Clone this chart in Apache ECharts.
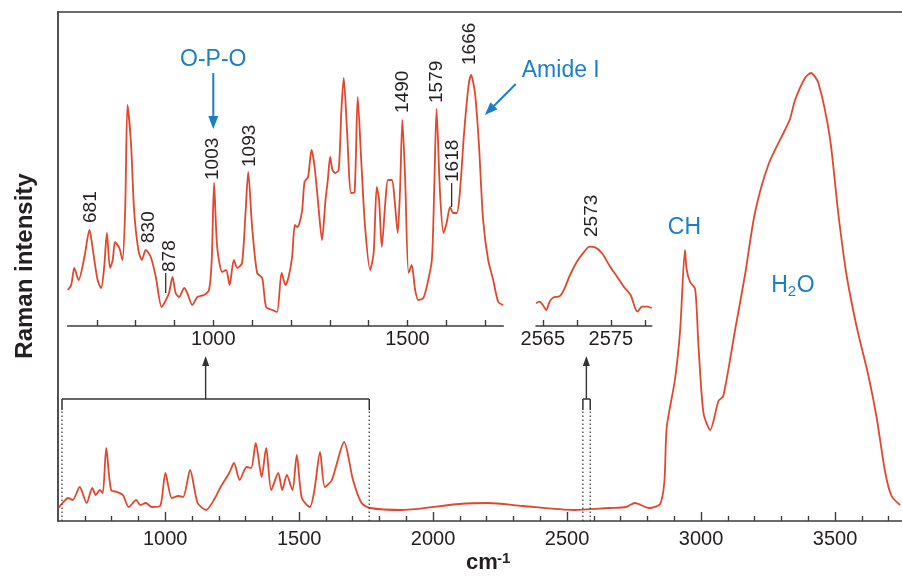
<!DOCTYPE html>
<html><head><meta charset="utf-8">
<script src="https://cdn.jsdelivr.net/npm/echarts@6/dist/echarts.min.js"></script>
<style>html,body{margin:0;padding:0;background:#fff}#c{width:902px;height:576px}</style>
</head><body><div id="c"></div>
<script>
// ---- Full spectrum (main panel), x in cm-1, y in arbitrary intensity units
const mainX = [602,617,638,655,681,707,728,741,756,767,780,798,821,842,864,892,907,928,950,981,1001,1025,1050,1067,1093,1121,1153,1186,1207,1239,1257,1278,1304,1321,1338,1360,1377,1396,1422,1437,1454,1475,1491,1510,1540,1557,1578,1596,1622,1668,1701,1733,1765,1884,2097,2205,2334,2526,2656,2720,2753,2806,2847,2863,2872,2903,2922,2940,2946,2959,2978,2990,3009,3034,3065,3083,3127,3164,3201,3251,3313,3332,3351,3388,3410,3438,3481,3512,3543,3581,3624,3655,3687,3711,3743];
const mainY = [13,18,23,21,34,18,33,26,31,28,73,31,29,26,14,21,16,18,14,15,48,23,25,24,51,18,11,23,34,48,58,41,54,53,78,44,73,31,48,31,46,31,66,23,14,31,69,34,41,79,41,18,13,11,17,18,15,11,13,14,18,13,17,39,94,142,191,271,252,239,232,177,108,91,120,125,191,246,308,356,391,402,421,443,448,438,383,308,246,194,146,104,49,25,16];
// ---- Fingerprint inset
const fpX = [625,634,642,653,668,681,691,702,711,719,726,734,741,747,758,766,773,779,788,796,807,816,826,839,852,867,878,886,895,903,912,925,933,946,959,976,989,996,1002,1010,1023,1033,1042,1053,1062,1074,1083,1090,1100,1113,1126,1136,1152,1164,1176,1186,1194,1203,1210,1216,1222,1229,1235,1244,1253,1261,1271,1280,1289,1295,1301,1307,1314,1323,1330,1336,1344,1355,1364,1372,1381,1391,1404,1413,1421,1427,1434,1443,1450,1460,1467,1475,1481,1487,1494,1503,1511,1520,1528,1541,1552,1563,1569,1575,1584,1593,1601,1610,1618,1627,1635,1646,1657,1664,1674,1684,1695,1708,1721,1734,1747];
const fpY = [36,41,58,46,69,96,73,46,38,59,93,58,66,84,78,66,116,221,183,116,76,66,76,69,49,19,26,33,49,33,29,38,33,21,29,31,36,66,143,79,54,56,41,66,58,63,113,154,99,53,48,19,16,14,53,41,49,69,101,99,103,116,144,149,176,159,119,86,126,146,169,156,153,156,216,248,199,133,134,229,166,99,56,73,139,126,79,123,146,146,126,93,136,206,149,53,61,36,26,28,43,66,136,217,133,93,103,119,113,113,133,193,239,251,233,183,106,66,46,24,21];
// ---- S-H inset
const shX = [2564,2564.5,2565.1,2565.5,2566,2566.5,2567.5,2568.2,2569,2570,2570.9,2571.9,2572.7,2573.7,2574.9,2575.9,2576.9,2577.9,2578.9,2579.6,2580.4,2581];
const shY = [22.7,24.3,20,16,24.3,28.3,30,37.7,51,64.3,72.7,79.3,78.7,72.7,59.3,49.3,39.3,31,14.3,19.3,19.3,17.7];
// ---- Ticks / labels
const mainMajor = [1000,1500,2000,2500,3000,3500];
const mainMinor = [700,800,900,1100,1200,1300,1400,1600,1700,1800,1900,2100,2200,2300,2400,2600,2700,2800,2900,3100,3200,3300,3400,3600,3700];
const fpTicks = [700,800,900,1000,1100,1200,1300,1400,1500,1600,1700];
const fpLabels = [1000,1500];
const shTicks = [2565,2570,2575,2580];
const shLabels = [2565,2575];
// ---- Peak annotations (inset coordinates)
const peakText = ['681','830','878','1003','1093','1490','1579','1618','1666'];
const peakX = [685,834,888,999,1093,1489,1576,1618,1661];
const peakBase = [103,83,54,146,159,213,223,144,261];
const leaderX = [877.5,1614];
const leaderTop = [53,143];
const leaderBottom = [33,119];
const shPeakText = '2573', shPeakX = 2572.2, shPeakBase = 89;

const FONT = '"Liberation Sans", Arial, Helvetica, sans-serif';
const RED = '#e2472c', DARK = '#231f20', AX = '#3d3d3d', BLUE = '#1b7ec8';
const zip = (a, b) => a.map((v, i) => [v, b[i]]);
const chart = echarts.init(document.getElementById('c'));
const lblStyle = {color: DARK, fontSize: 20, fontFamily: FONT, formatter: v => String(v)};
const tickStyle = {color: AX, width: 1.4};
chart.setOption({
  animation: false,
  grid: [
    {left: 58, top: 12, width: 846, height: 509},
    {left: 67.7, top: 26, width: 435.6, height: 300},
    {left: 536, top: 26, width: 115.7, height: 300}
  ],
  xAxis: [
    {gridIndex: 0, type: 'value', position: 'bottom', min: 600, max: 3750,
     axisLine: {lineStyle: {color: AX, width: 1.6}},
     axisTick: {customValues: mainMajor, inside: true, length: 9, lineStyle: tickStyle},
     axisLabel: Object.assign({customValues: mainMajor, margin: 8}, lblStyle), splitLine: {show: false}},
    {gridIndex: 0, type: 'value', position: 'bottom', min: 600, max: 3750,
     axisLine: {show: false},
     axisTick: {customValues: mainMinor, inside: true, length: 5, lineStyle: tickStyle},
     axisLabel: {show: false}, splitLine: {show: false}},
    {gridIndex: 1, type: 'value', position: 'bottom', min: 625, max: 1747,
     axisLine: {lineStyle: {color: AX, width: 1.6}},
     axisTick: {customValues: fpTicks, inside: true, length: 6, lineStyle: tickStyle},
     axisLabel: Object.assign({customValues: fpLabels, margin: 3}, lblStyle), splitLine: {show: false}},
    {gridIndex: 2, type: 'value', position: 'bottom', min: 2564, max: 2581,
     axisLine: {lineStyle: {color: AX, width: 1.6}},
     axisTick: {customValues: shTicks, inside: true, length: 6, lineStyle: tickStyle},
     axisLabel: Object.assign({customValues: shLabels, margin: 3}, lblStyle), splitLine: {show: false}},
    {gridIndex: 0, type: 'value', position: 'top', min: 600, max: 3750,
     axisLine: {lineStyle: {color: AX, width: 1.6}},
     axisTick: {show: false}, axisLabel: {show: false}, splitLine: {show: false}}
  ],
  yAxis: [
    {gridIndex: 0, type: 'value', min: 0, max: 509, position: 'left',
     axisLine: {show: true, lineStyle: {color: AX, width: 1.8}},
     axisTick: {show: false}, axisLabel: {show: false}, splitLine: {show: false}},
    {gridIndex: 1, type: 'value', min: 0, max: 300, show: false},
    {gridIndex: 2, type: 'value', min: 0, max: 300, show: false}
  ],
  series: [
    {type: 'line', xAxisIndex: 0, yAxisIndex: 0, data: zip(mainX, mainY), showSymbol: false, smooth: 0.25,
     lineStyle: {color: RED, width: 1.8}},
    {type: 'line', xAxisIndex: 2, yAxisIndex: 1, data: zip(fpX, fpY), showSymbol: false, smooth: 0.25,
     lineStyle: {color: RED, width: 1.8}},
    {type: 'line', xAxisIndex: 3, yAxisIndex: 2, data: zip(shX, shY), showSymbol: false, smooth: 0.3,
     lineStyle: {color: RED, width: 1.8}}
  ]
});

const P = (si, x, y) => chart.convertToPixel({seriesIndex: si}, [x, y]);
const g = [];
function line(a, b, color, w, dash) {
  g.push({type: 'line', shape: {x1: a[0], y1: a[1], x2: b[0], y2: b[1]},
          style: {stroke: color, lineWidth: w, lineDash: dash || null}, z: 100});
}
function arrow(a, b, color, w, hl, hw) {
  const dx = b[0] - a[0], dy = b[1] - a[1], L = Math.hypot(dx, dy);
  const ux = dx / L, uy = dy / L;
  const base = [b[0] - ux * hl, b[1] - uy * hl];
  line(a, [base[0] + ux * 1, base[1] + uy * 1], color, w);
  g.push({type: 'polygon', shape: {points: [b, [base[0] - uy * hw / 2, base[1] + ux * hw / 2], [base[0] + uy * hw / 2, base[1] - ux * hw / 2]]},
          style: {fill: color}, z: 100});
}
function text(pt, str, opts) {
  g.push({type: 'text', x: pt[0], y: pt[1], rotation: opts.rot || 0, z: 100,
          style: {text: str, fill: opts.fill || DARK, fontSize: opts.size || 19, fontFamily: FONT,
                  fontWeight: opts.bold ? 'bold' : 'normal', align: opts.align || 'center', verticalAlign: opts.va || 'middle'}});
}
// rotated peak labels
peakText.forEach((t, i) => text(P(1, peakX[i], peakBase[i]), t, {rot: Math.PI / 2, align: 'left'}));
leaderX.forEach((x, i) => line(P(1, x, leaderTop[i]), P(1, x, leaderBottom[i]), DARK, 1.2));
text(P(2, shPeakX, shPeakBase), shPeakText, {rot: Math.PI / 2, align: 'left'});
// blue annotations
text(P(1, 1000, 266), 'O-P-O', {fill: BLUE, size: 23});
arrow(P(1, 1000, 253), P(1, 1000, 197), BLUE, 2, 13, 10);
text(P(1, 1895, 255), 'Amide I', {fill: BLUE, size: 23});
arrow(P(1, 1779, 242), P(1, 1699.5, 211), BLUE, 2, 13, 10);
text(P(0, 2938, 293), 'CH', {fill: BLUE, size: 23});
const h = P(0, 3262, 235);
text([h[0], h[1]], 'H', {fill: BLUE, size: 23, align: 'left'});
text([h[0] + 16.6, h[1] + 6], '2', {fill: BLUE, size: 15, align: 'left'});
text([h[0] + 25.5, h[1]], 'O', {fill: BLUE, size: 23, align: 'left'});
// brackets and arrows
const br = [[614.9, 1761.7, 1151], [2559, 2586.4, 2572]];
br.forEach(([a, b, m]) => {
  line(P(0, a, 0), P(0, a, 111), '#333', 1.2, [1.5, 2.5]);
  line(P(0, b, 0), P(0, b, 111), '#333', 1.2, [1.5, 2.5]);
  line(P(0, a, 111), P(0, a, 122), '#333', 1.5);
  line(P(0, b, 111), P(0, b, 122), '#333', 1.5);
  line(P(0, a, 122), P(0, b, 122), '#333', 1.5);
  arrow(P(0, m, 122), P(0, m, 165), '#333', 1.4, 10, 7);
});
// axis titles
text([25, 266], 'Raman intensity', {rot: Math.PI / 2, size: 24, bold: true});
text([466, 563], 'cm', {size: 22, bold: true, align: 'left'});
text([497, 559], '-1', {size: 15, bold: true, align: 'left'});
chart.setOption({graphic: g});
</script></body></html>
